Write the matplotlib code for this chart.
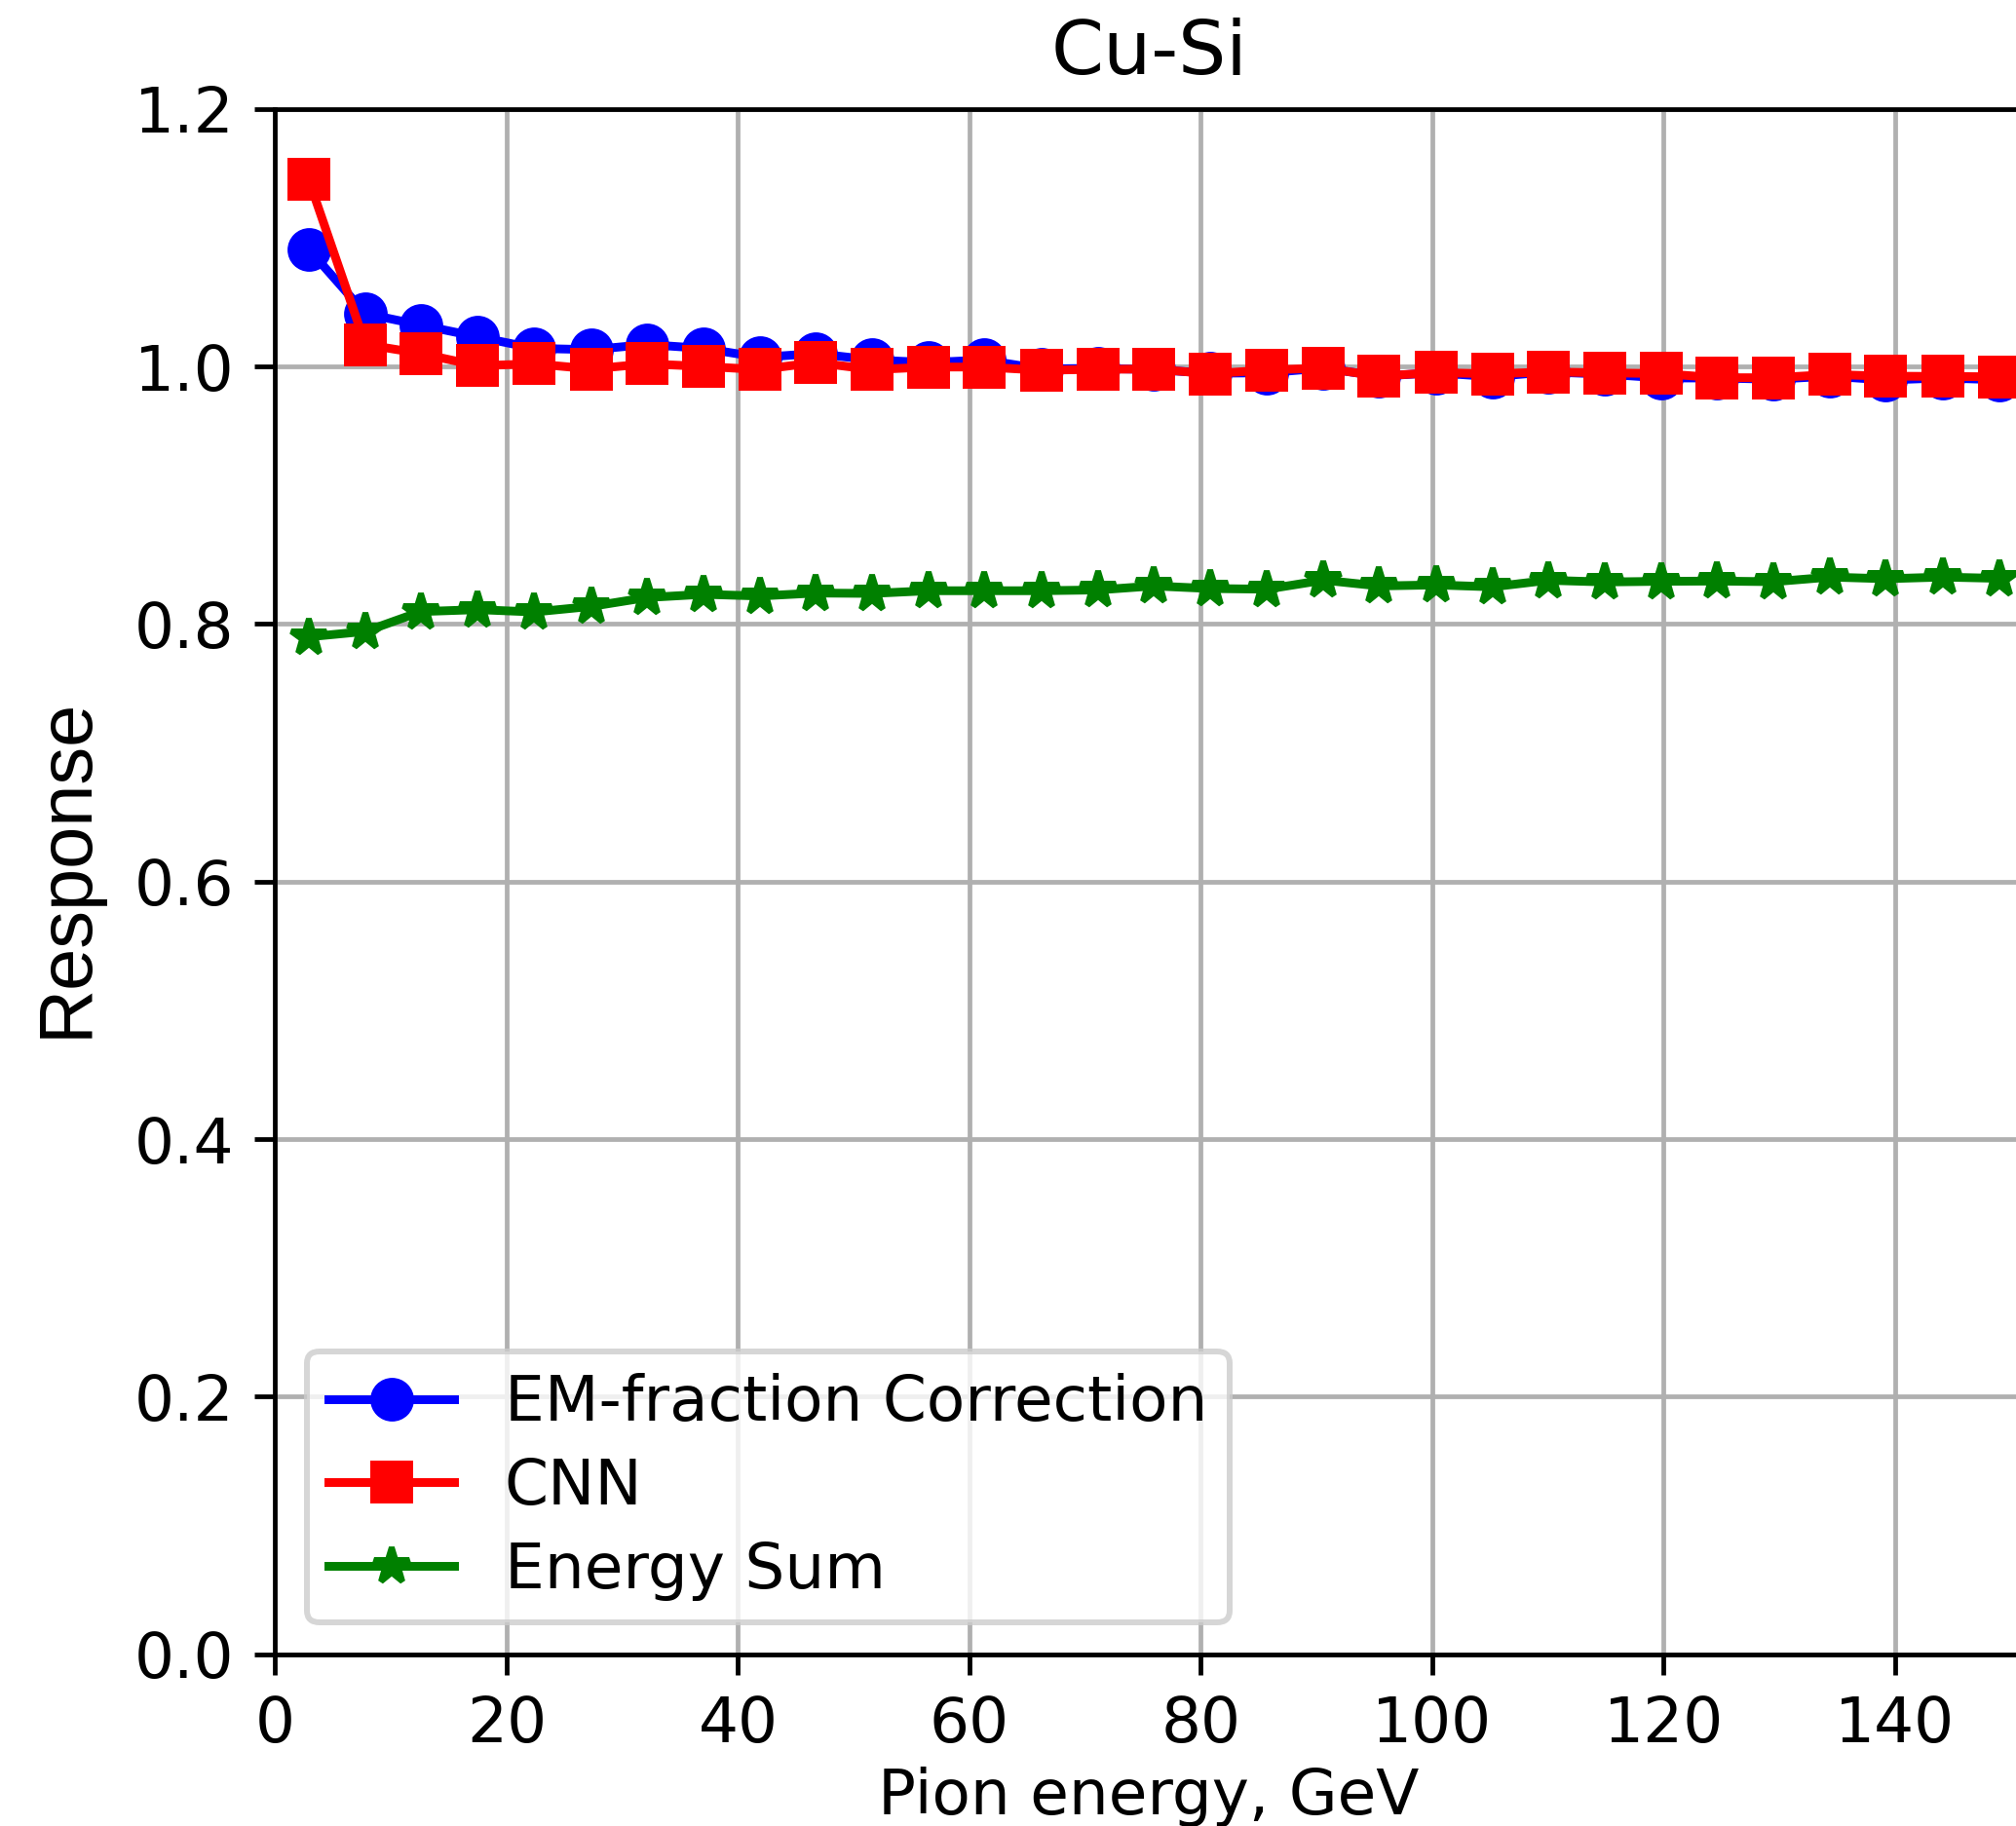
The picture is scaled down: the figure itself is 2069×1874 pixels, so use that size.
import matplotlib
matplotlib.use("Agg")
import matplotlib.pyplot as plt

energy = [2.9, 7.8, 12.6, 17.5, 22.4, 27.3, 32.1, 37.0, 41.9, 46.7,
          51.6, 56.5, 61.3, 66.2, 71.1, 75.9, 80.8, 85.7, 90.6, 95.4,
          100.3, 105.2, 110.0, 114.9, 119.8, 124.6, 129.5, 134.4, 139.2, 144.1,
          149.0]

em_corr = [1.091, 1.041, 1.032, 1.023, 1.014, 1.013, 1.017, 1.014, 1.007, 1.010,
           1.005, 1.003, 1.005, 0.998, 0.9985, 0.9975, 0.9947, 0.995, 0.9987, 0.9924,
           0.995, 0.992, 0.9957, 0.994, 0.991, 0.991, 0.990, 0.9924, 0.9894, 0.991,
           0.9896]

cnn = [1.145, 1.017, 1.010, 1.0005, 1.002, 0.998, 1.002, 1.000, 0.9975, 1.003,
       0.9975, 0.9995, 0.9995, 0.997, 0.9977, 0.998, 0.9942, 0.9972, 0.9987, 0.9924,
       0.9952, 0.9942, 0.9957, 0.995, 0.9944, 0.9912, 0.9912, 0.9937, 0.9924, 0.9922,
       0.9919]

energy_sum = [0.790, 0.7942, 0.8096, 0.8111, 0.8093, 0.8136, 0.8205, 0.823, 0.8217, 0.824,
              0.8237, 0.8258, 0.8258, 0.8258, 0.8264, 0.8295, 0.8275, 0.827, 0.834, 0.8295,
              0.8303, 0.8288, 0.8339, 0.8326, 0.8331, 0.8333, 0.8328, 0.8364, 0.8351, 0.8364,
              0.8354]

plt.rcParams['font.size'] = 10.8

dpi = 430
fig = plt.figure(figsize=(2069 / dpi, 1874 / dpi), dpi=dpi)
ax = fig.add_axes([0.1365, 0.0941, 0.8667, 0.8463])

ax.plot(energy, em_corr, 'b', marker='o', ms=6.5, label='EM-fraction Correction')
ax.plot(energy, cnn, 'r', marker='s', ms=6.5, label='CNN')
ax.plot(energy, energy_sum, 'g', marker='*', ms=6.5, label='Energy Sum')

ax.set_xlim(0, 151)
ax.set_ylim(0, 1.2)
ax.grid(True)
ax.set_title('Cu-Si')
ax.set_xlabel('Pion energy, GeV', labelpad=2)
ax.set_ylabel('Response', fontname='Liberation Sans', fontsize=13, labelpad=5.5, y=0.509)
ax.legend(loc='lower left', labelspacing=0.37, borderpad=0.35)

fig.savefig('out.png', dpi=dpi)
